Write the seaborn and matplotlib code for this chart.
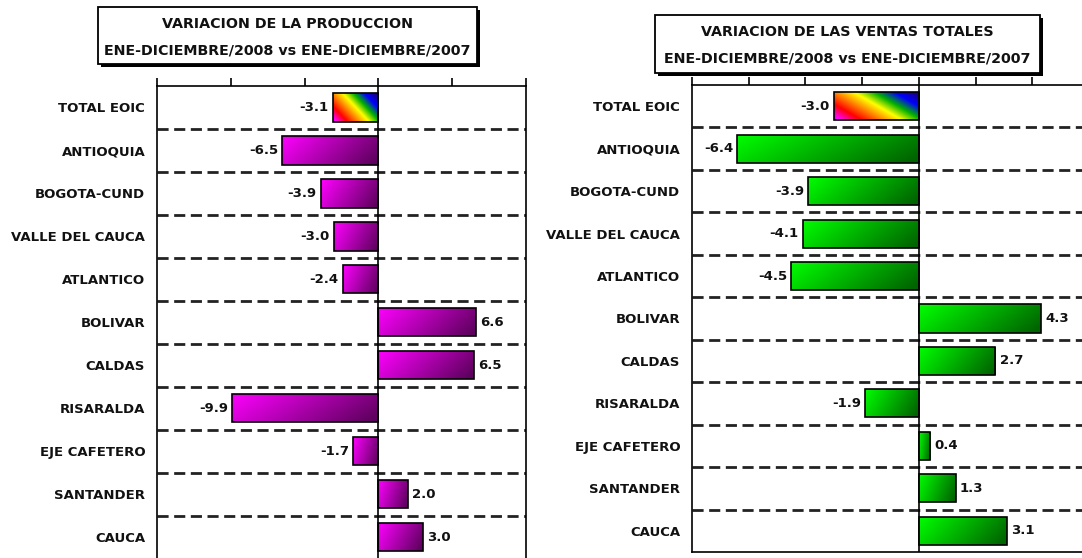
import numpy as np
import matplotlib
matplotlib.use("Agg")
import matplotlib.pyplot as plt
from matplotlib.patches import Rectangle
from matplotlib.colors import LinearSegmentedColormap, to_rgb
import seaborn as sns

categories = ["TOTAL EOIC", "ANTIOQUIA", "BOGOTA-CUND", "VALLE DEL CAUCA", "ATLANTICO",
              "BOLIVAR", "CALDAS", "RISARALDA", "EJE CAFETERO", "SANTANDER", "CAUCA"]
produccion = [-3.1, -6.5, -3.9, -3.0, -2.4, 6.6, 6.5, -9.9, -1.7, 2.0, 3.0]
ventas = [-3.0, -6.4, -3.9, -4.1, -4.5, 4.3, 2.7, -1.9, 0.4, 1.3, 3.1]
prod_ticks = [-15, -10, -5, 0, 5, 10]
vent_ticks = [-8, -6, -4, -2, 0, 2, 4, 6]
title_prod = ["VARIACION DE LA PRODUCCION", "ENE-DICIEMBRE/2008 vs ENE-DICIEMBRE/2007"]
title_vent = ["VARIACION DE LAS VENTAS TOTALES", "ENE-DICIEMBRE/2008 vs ENE-DICIEMBRE/2007"]

sns.set_theme(style="white")
plt.rcParams['font.family'] = ['DejaVu Sans']

W, H = 1082, 558
fig = plt.figure(figsize=(W / 100, H / 100), dpi=100)

rainbow = LinearSegmentedColormap.from_list(
    "rb", ["#ff00ff", "#ff0000", "#ff8000", "#ffff00", "#00b000", "#0000ff", "#1a0080"])


def grad_img(c1, c2, n=40, m=200):
    x = np.linspace(0, 1, m)[None, :]
    y = np.linspace(0, 1, n)[:, None]
    t = np.clip(0.8 * x + 0.25 * y, 0, 1)
    a, b = np.array(to_rgb(c1)), np.array(to_rgb(c2))
    return a[None, None, :] * (1 - t[..., None]) + b[None, None, :] * t[..., None]


def rainbow_img(n=40, m=200):
    x = np.linspace(0, 1, m)[None, :]
    y = np.linspace(0, 1, n)[:, None]
    t = np.clip(0.7 * x + 0.4 * (1 - y) - 0.05, 0, 1)
    return rainbow(t)[..., :3]


def panel(rect, values, ticks, xlim, c1, c2, show_bottom, show_right):
    ax = fig.add_axes(rect)
    sns.barplot(x=values, y=categories, orient="h", ax=ax, color=c1, width=0.66,
                edgecolor="black", linewidth=1.2, zorder=3)
    for i, p in enumerate(ax.patches):
        x0, w = p.get_x(), p.get_width()
        y0, h = p.get_y(), p.get_height()
        left, right = min(x0, x0 + w), max(x0, x0 + w)
        img = rainbow_img() if i == 0 else grad_img(c1, c2)
        im = ax.imshow(img, extent=[left, right, y0 + h, y0], origin="upper",
                       aspect="auto", zorder=2.5, interpolation="bilinear")
        im.set_clip_path(p)
        p.set_facecolor("none")
    for i, v in enumerate(values):
        if v < 0:
            ax.annotate(f"{v:.1f}", (v, i), xytext=(-3, 0), textcoords="offset points",
                        ha="right", va="center", fontsize=9.5, fontweight="bold", color="#111")
        else:
            ax.annotate(f"{v:.1f}", (v, i), xytext=(3, 0), textcoords="offset points",
                        ha="left", va="center", fontsize=9.5, fontweight="bold", color="#111")
    ax.set_xlim(*xlim)
    ax.set_ylim(len(categories) - 0.5, -0.5)
    for k in range(len(categories) - 1):
        ax.axhline(k + 0.5, color="#222222", lw=2, linestyle=(0, (4, 2)), zorder=1)
    ax.axvline(0, color="black", lw=1.2, zorder=4)
    ax.set_xticks(ticks)
    ax.set_xticklabels([])
    ax.xaxis.tick_top()
    ax.tick_params(axis="x", which="both", top=True, bottom=False, direction="out",
                   length=6, width=1.2, color="black", labeltop=False, labelbottom=False)
    ax.tick_params(axis="y", length=0, pad=8.5)
    for lab in ax.get_yticklabels():
        lab.set_fontweight("bold")
        lab.set_fontsize(9.5)
        lab.set_color("#111")
    ax.set_xlabel("")
    ax.set_ylabel("")
    for s in ax.spines.values():
        s.set_color("black")
        s.set_linewidth(1.2)
        s.set_visible(True)
    ax.spines["bottom"].set_visible(show_bottom)
    ax.spines["right"].set_visible(show_right)
    ax.grid(False)
    return ax


panel([157 / W, -0.5 / H, 369 / W, 472.5 / H], produccion, prod_ticks, (-15, 10),
      "#ff00ff", "#5e005e", False, True)
panel([692 / W, 6 / H, 397 / W, 467 / H], ventas, vent_ticks, (-8, 6),
      "#00ff00", "#006400", True, False)


def title_box(x0, x1, y0, y1, lines, ly):
    sh = 3
    fig.patches.append(Rectangle(((x0 + sh) / W, 1 - (y1 + sh) / H), (x1 - x0) / W, (y1 - y0) / H,
                                 transform=fig.transFigure, facecolor="black", edgecolor="black",
                                 lw=0, zorder=1))
    fig.patches.append(Rectangle((x0 / W, 1 - y1 / H), (x1 - x0) / W, (y1 - y0) / H,
                                 transform=fig.transFigure, facecolor="white", edgecolor="black",
                                 lw=1.3, zorder=2))
    cx = (x0 + x1) / 2
    for t, y in zip(lines, ly):
        fig.text(cx / W, 1 - y / H, t, ha="center", va="center", fontsize=10.3,
                 fontweight="bold", color="#111", zorder=3)


title_box(98, 477, 7, 64, title_prod, [24, 51])
title_box(655, 1040, 15, 73, title_vent, [32, 58])

fig.savefig("out.png", dpi=100)
